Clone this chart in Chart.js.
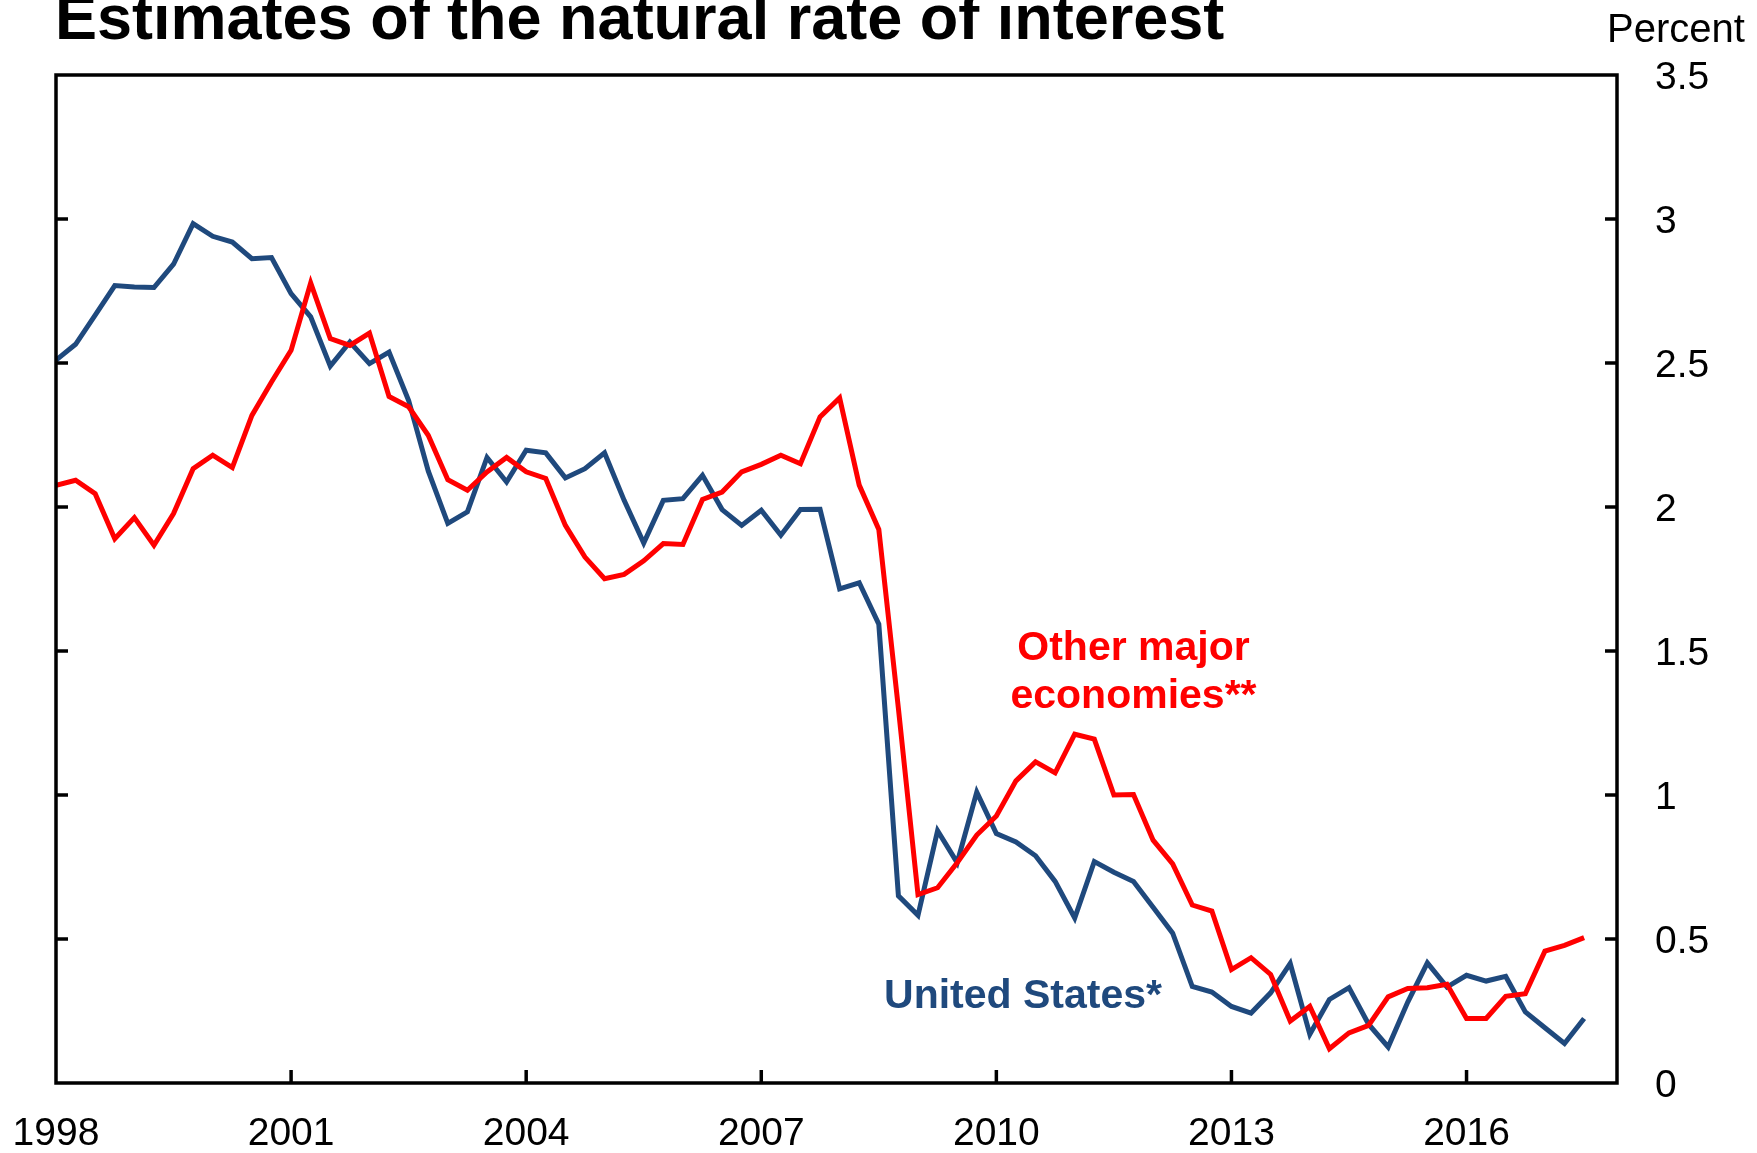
<!DOCTYPE html>
<html>
<head>
<meta charset="utf-8">
<script src="https://cdn.jsdelivr.net/npm/chart.js@4.4.1/dist/chart.umd.min.js"></script>
<style>
html,body{margin:0;padding:0;background:#fff;}
#c{display:block;}
</style>
</head>
<body>
<canvas id="c" width="1757" height="1153"></canvas>
<script>
// ---- Data ----
const quarters = [
  "1998Q1","1998Q2","1998Q3","1998Q4","1999Q1","1999Q2","1999Q3","1999Q4",
  "2000Q1","2000Q2","2000Q3","2000Q4","2001Q1","2001Q2","2001Q3","2001Q4",
  "2002Q1","2002Q2","2002Q3","2002Q4","2003Q1","2003Q2","2003Q3","2003Q4",
  "2004Q1","2004Q2","2004Q3","2004Q4","2005Q1","2005Q2","2005Q3","2005Q4",
  "2006Q1","2006Q2","2006Q3","2006Q4","2007Q1","2007Q2","2007Q3","2007Q4",
  "2008Q1","2008Q2","2008Q3","2008Q4","2009Q1","2009Q2","2009Q3","2009Q4",
  "2010Q1","2010Q2","2010Q3","2010Q4","2011Q1","2011Q2","2011Q3","2011Q4",
  "2012Q1","2012Q2","2012Q3","2012Q4","2013Q1","2013Q2","2013Q3","2013Q4",
  "2014Q1","2014Q2","2014Q3","2014Q4","2015Q1","2015Q2","2015Q3","2015Q4",
  "2016Q1","2016Q2","2016Q3","2016Q4","2017Q1","2017Q2","2017Q3"
];

const unitedStates = [
  2.51, 2.565, 2.666, 2.769, 2.764, 2.762, 2.843, 2.984,
  2.94, 2.92, 2.862, 2.866, 2.741, 2.66, 2.489, 2.573,
  2.498, 2.538, 2.37, 2.125, 1.943, 1.983, 2.172, 2.087,
  2.197, 2.188, 2.101, 2.133, 2.188, 2.023, 1.875, 2.023,
  2.029, 2.11, 1.991, 1.936, 1.989, 1.902, 1.991, 1.992,
  1.716, 1.737, 1.593, 0.65, 0.582, 0.876, 0.765, 1.01,
  0.866, 0.837, 0.789, 0.70, 0.573, 0.769, 0.732, 0.70,
  0.61, 0.52, 0.335, 0.316, 0.266, 0.243, 0.313, 0.415,
  0.169, 0.29, 0.331, 0.204, 0.125, 0.281, 0.417, 0.333,
  0.374, 0.354, 0.37, 0.247, 0.192, 0.137, 0.224
];

const otherMajorEconomies = [
  2.075, 2.093, 2.046, 1.89, 1.963, 1.867, 1.977, 2.133,
  2.18, 2.137, 2.318, 2.434, 2.544, 2.778, 2.585, 2.561,
  2.604, 2.384, 2.348, 2.249, 2.095, 2.058, 2.122, 2.172,
  2.122, 2.099, 1.936, 1.826, 1.751, 1.766, 1.813, 1.873,
  1.87, 2.026, 2.052, 2.122, 2.148, 2.18, 2.15, 2.313,
  2.379, 2.076, 1.922, 1.3, 0.654, 0.678, 0.765, 0.861,
  0.927, 1.049, 1.115, 1.077, 1.211, 1.194, 1.0, 1.002,
  0.843, 0.761, 0.618, 0.597, 0.394, 0.435, 0.377, 0.215,
  0.266, 0.119, 0.174, 0.2, 0.299, 0.328, 0.331, 0.343,
  0.224, 0.224, 0.301, 0.31, 0.458, 0.478, 0.505
];

const xTickYears = [1998, 2001, 2004, 2007, 2010, 2013, 2016];
const yTickValues = [0, 0.5, 1, 1.5, 2, 2.5, 3, 3.5];
const xMin = 1998, xMax = 2017.92;
const yMin = 0, yMax = 3.5;

const titleText = "Estimates of the natural rate of interest";
const unitText = "Percent";
const seriesNames = ["United States*", "Other major economies**"];
const blue = "#1F497D";
const red = "#FF0000";
const FONT = '"Liberation Sans", Arial, sans-serif';

// quarter label -> decimal year (start of quarter)
function qToYear(q) {
  const y = parseInt(q.slice(0, 4), 10);
  const n = parseInt(q.slice(5), 10);
  return y + (n - 1) / 4;
}
const toPoints = vals => vals.map((v, i) => ({ x: qToYear(quarters[i]), y: v }));

const decor = {
  id: 'decor',
  afterDatasetsDraw(chart) {
    const { ctx, chartArea: a, scales: { x, y } } = chart;
    ctx.save();
    ctx.strokeStyle = '#000';
    ctx.lineWidth = 3.5;
    ctx.lineCap = 'butt';
    // inward tick marks
    ctx.beginPath();
    yTickValues.forEach(v => {
      if (v === yMin || v === yMax) return;
      const py = y.getPixelForValue(v);
      ctx.moveTo(a.left, py); ctx.lineTo(a.left + 12, py);
      ctx.moveTo(a.right - 12, py); ctx.lineTo(a.right, py);
    });
    xTickYears.forEach(v => {
      if (v === xMin) return;
      const px = x.getPixelForValue(v);
      ctx.moveTo(px, a.bottom); ctx.lineTo(px, a.bottom - 13);
    });
    ctx.stroke();
    // frame
    ctx.strokeRect(a.left, a.top, a.right - a.left, a.bottom - a.top);

    // series labels
    ctx.font = 'bold 41px ' + FONT;
    ctx.textAlign = 'center';
    ctx.textBaseline = 'alphabetic';
    ctx.fillStyle = red;
    const ox = x.getPixelForValue(2011.75);
    ctx.fillText("Other major", ox, y.getPixelForValue(1.469));
    ctx.fillText("economies**", ox, y.getPixelForValue(1.302));
    ctx.fillStyle = blue;
    ctx.fillText(seriesNames[0], x.getPixelForValue(2010.34), y.getPixelForValue(0.26));

    // title
    ctx.fillStyle = '#000';
    ctx.textAlign = 'left';
    ctx.font = 'bold 63px ' + FONT;
    ctx.fillText(titleText, a.left - 1, 39);
    // unit
    ctx.font = '40px ' + FONT;
    ctx.fillText(unitText, 1607, 42);
    ctx.restore();
  }
};

const zeroPad = s => { s.paddingLeft = 0; s.paddingRight = 0; s.paddingTop = 0; s.paddingBottom = 0; };

new Chart(document.getElementById('c'), {
  type: 'line',
  data: {
    datasets: [
      { label: seriesNames[1], data: toPoints(otherMajorEconomies), borderColor: red, backgroundColor: red },
      { label: seriesNames[0], data: toPoints(unitedStates), borderColor: blue, backgroundColor: blue }
    ]
  },
  options: {
    responsive: false,
    animation: false,
    devicePixelRatio: 1,
    layout: { padding: { top: 75, left: 56, right: 0, bottom: 0 } },
    elements: {
      point: { radius: 0, hoverRadius: 0 },
      line: { tension: 0, borderWidth: 5, borderJoinStyle: 'miter', fill: false }
    },
    plugins: { legend: { display: false }, tooltip: { enabled: false }, title: { display: false } },
    scales: {
      x: {
        type: 'linear', position: 'bottom', min: xMin, max: xMax,
        grid: { display: false, drawTicks: false },
        border: { display: false },
        ticks: {
          color: '#000', font: { family: FONT, size: 39 }, padding: 28,
          maxRotation: 0, autoSkip: false, callback: v => String(v)
        },
        afterBuildTicks: s => { s.ticks = xTickYears.map(v => ({ value: v })); },
        afterFit: s => { s.height = 70; zeroPad(s); }
      },
      y: {
        type: 'linear', position: 'right', min: yMin, max: yMax,
        grid: { display: false, drawTicks: false },
        border: { display: false },
        ticks: {
          color: '#000', font: { family: FONT, size: 39 }, padding: 38, labelOffset: 3,
          callback: v => String(v)
        },
        afterBuildTicks: s => { s.ticks = yTickValues.map(v => ({ value: v })); },
        afterFit: s => { s.width = 140; zeroPad(s); }
      }
    }
  },
  plugins: [decor]
});
</script>
</body>
</html>
